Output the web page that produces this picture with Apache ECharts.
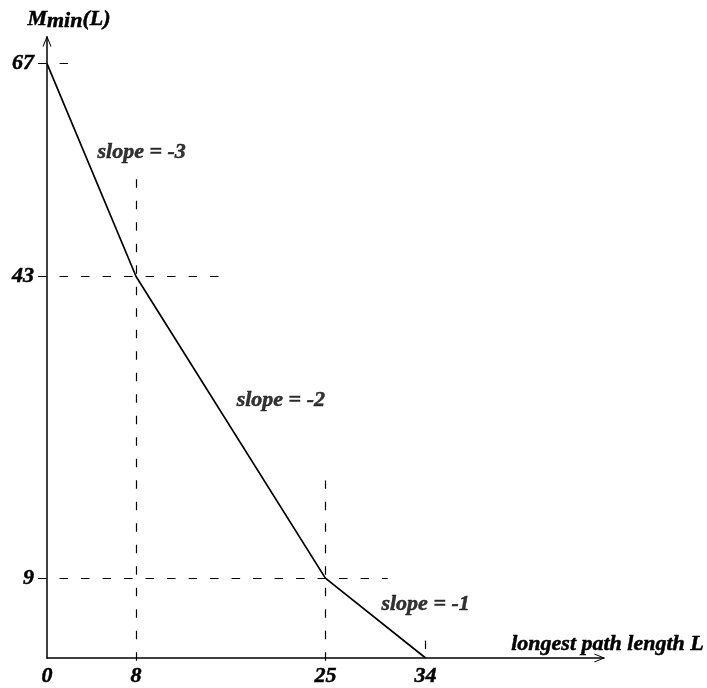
<!DOCTYPE html>
<html>
<head>
<meta charset="utf-8">
<script src="https://cdn.jsdelivr.net/npm/echarts@6/dist/echarts.min.js"></script>
<style>
  html, body { margin: 0; padding: 0; background: #fff; }
  #chart { width: 707px; height: 688px; }
</style>
</head>
<body>
<div id="chart"></div>
<script>
// piecewise minimum curve
const pathLen = [0, 8, 25, 34]
const minM = [67, 43, 9, 0]

const xTicks = [0, 8, 25, 34]
const yTicks = [9, 43, 67]

const slopeText = ['slope = -3', 'slope = -2', 'slope = -1']
const slopeX = [8.5, 21, 34]
const slopeY = [57, 29, 6]

// dashed guide lines: [x0, y0, x1, y1]
const guides = [
  [-0.8, 67, 2, 67],
  [-0.8, 43, 15.4, 43],
  [-0.8, 9, 30.6, 9],
  [8, -0.3, 8, 55],
  [25, -0.3, 25, 20],
  [34, 1, 34, 2.2],
]

const FONT = 'Liberation Serif'
const ink = '#000'
const arrow = 'path://M5,0 L10,12 L8.8,12 L5,2.6 L1.2,12 L0,12 Z'
const txt = {
  fontFamily: FONT, fontStyle: 'italic', fontWeight: 'bold', fontSize: 22, color: ink,
  textBorderColor: ink, textBorderWidth: 0.5,
}

const chart = echarts.init(document.getElementById('chart'))

chart.setOption({
  animation: false,
  grid: { left: 47, right: 100, top: 37, bottom: 30 },
  xAxis: {
    type: 'value',
    min: 0,
    max: 50,
    splitLine: { show: false },
    axisTick: { show: false },
    axisLine: {
      onZero: false,
      symbol: ['none', arrow],
      symbolSize: [9, 11],
      symbolOffset: [0, -4],
      lineStyle: { color: ink, width: 1.5 },
    },
    axisLabel: { customValues: xTicks, margin: 7, ...txt },
    name: 'longest path length L',
    nameLocation: 'end',
    nameGap: 100,
    nameTextStyle: { align: 'right', verticalAlign: 'bottom', padding: [0, 0, 3, 0], ...txt },
  },
  yAxis: {
    type: 'value',
    min: 0,
    max: 70,
    splitLine: { show: false },
    axisTick: { show: false },
    axisLine: {
      onZero: false,
      symbol: ['none', arrow],
      symbolSize: [9, 11],
      symbolOffset: [0, -4],
      lineStyle: { color: ink, width: 1.5 },
    },
    axisLabel: { customValues: yTicks, margin: 13, ...txt },
    name: 'M{s|min}(L)',
    nameLocation: 'end',
    nameGap: 5,
    nameTextStyle: {
      padding: [0, 0, 0, 44],
      ...txt,
      rich: { s: { ...txt, padding: [3, 0, 0, 0] } },
    },
  },
  series: [
    {
      type: 'line',
      data: pathLen.map((x, i) => [x, minM[i]]),
      symbol: 'none',
      silent: true,
      lineStyle: { color: ink, width: 1.7 },
      z: 5,
    },
    {
      type: 'lines',
      coordinateSystem: 'cartesian2d',
      silent: true,
      clip: false,
      data: guides.map(g => ({ coords: [[g[0], g[1]], [g[2], g[3]]] })),
      lineStyle: { color: '#000', width: 1.2, type: [8.5, 13], opacity: 1 },
    },
    {
      type: 'scatter',
      symbolSize: 0,
      silent: true,
      data: slopeText.map((t, i) => ({ name: t, value: [slopeX[i], slopeY[i]] })),
      label: { show: true, position: 'inside', formatter: '{b}', ...txt },
    },
  ],
})
</script>
</body>
</html>
